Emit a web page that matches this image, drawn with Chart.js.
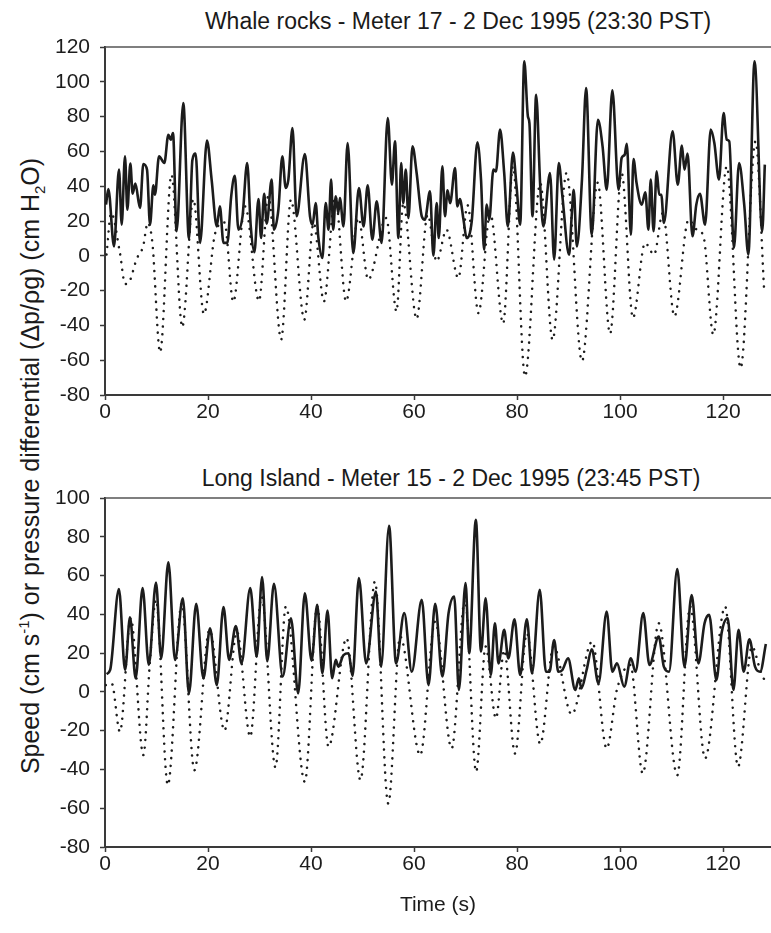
<!DOCTYPE html>
<html>
<head>
<meta charset="utf-8">
<script src="https://cdn.jsdelivr.net/npm/chart.js@4.4.0/dist/chart.umd.min.js"></script>
<style>
  body { margin: 0; background: #fff; }
  #wrap { position: relative; width: 771px; height: 933px; font-family: 'Liberation Sans', Arial, sans-serif; color: #1a1a1a; overflow: hidden; }
  .ttl { position: absolute; white-space: nowrap; font-size: 23px; transform: translateX(-50%); line-height: 1; }
  #ytitle { position: absolute; left: 30px; top: 466px; transform: translate(-50%, -50%) rotate(-90deg); white-space: nowrap; font-size: 25px; line-height: 1; }
  #ytitle sup, #ytitle sub { font-size: 15px; line-height: 0; }
  canvas { position: absolute; left: 0; }
</style>
</head>
<body>
<div id="wrap">
  <div class="ttl" style="left:458px; top:10px">Whale rocks - Meter 17 - 2 Dec 1995 (23:30 PST)</div>
  <div class="ttl" style="left:451px; top:467px">Long Island - Meter 15 - 2 Dec 1995 (23:45 PST)</div>
  <div id="ytitle">Speed (cm s<sup>-1</sup>) or pressure differential (Δp/ρg) (cm H<sub>2</sub>O)</div>
  <canvas id="whale" width="771" height="435" style="top:0"></canvas>
  <canvas id="island" width="771" height="498" style="top:435px"></canvas>
</div>
<script>
// Whale rocks (Meter 17) - speed, solid line
const whaleSpeedTime = [0.2,0.65,1.75,2.72,3.24,3.88,4.34,4.92,5.37,5.89,6.8,7.44,8.16,8.74,9.39,9.7,10.49,11.52,12.3,12.75,13.2,13.9,15.2,16.3,16.96,17.6,18.45,19.8,20.7,21.7,22.3,23.0,23.75,24.5,25.2,25.9,26.7,27.6,28.3,29.0,29.8,30.3,30.9,31.4,32.36,32.8,33.66,34.43,35.08,35.6,36.4,37.2,38.8,39.8,40.3,40.9,41.4,42.2,42.85,43.4,43.9,44.3,44.8,45.3,45.6,46.3,47.1,48.2,49.3,50.2,51.0,51.9,52.75,53.7,54.9,55.7,56.3,56.96,57.5,57.9,58.4,58.9,59.7,60.5,61.5,62.1,63.1,63.75,64.4,64.8,65.5,66.0,66.5,67.0,67.96,68.4,68.9,69.6,70.2,71.2,72.3,73.0,73.6,74.1,74.6,75.4,75.9,76.7,77.5,78.2,79.2,79.9,80.6,81.4,82.1,82.4,83.0,83.7,84.5,85.1,86.4,87.2,88.1,88.8,90.1,90.6,91.0,91.6,92.6,93.4,94.5,95.7,96.6,97.4,98.5,99.7,100.3,100.9,101.3,102.1,102.6,103.2,104.2,104.9,105.5,105.95,106.5,107.1,107.6,108.0,108.5,110.2,111.2,112.0,112.5,113.1,114.05,114.8,115.5,116.5,117.6,118.3,119.2,120.1,120.7,121.2,122.1,123.1,124.1,124.9,126.1,127.6,128.1];
const whaleSpeed = [29.4,38.4,5.4,49.5,17.9,57.2,26.5,53,35.7,41.5,27.5,52.8,49.5,17.9,40.5,35.1,57.2,53.3,69.6,66.7,70.6,14.1,87.8,9.8,54.9,58.7,7.4,66.2,43.8,16.9,28.4,7.4,7.4,34.2,46,15,22.7,53.3,16.9,2,32.6,10.2,35.7,18.5,43.8,15,26.5,57.2,39,43.8,73.4,22.7,58.5,22.7,17.9,30.3,11.2,-1.3,30.3,15,43.8,15,34.2,24.6,33.2,16.9,64.8,1.6,39,16.9,40.5,9.3,31.3,7.4,79.2,40.9,65.8,10.2,53.3,30.3,49.5,21.7,62.9,47.6,22.7,20.8,37,0.1,30.3,10.2,51.4,22.7,37.6,30.3,50.5,28.4,32.6,20.8,10.2,19.8,65.2,43.8,3.5,29.4,20.8,49.5,48.5,72.5,47.6,16.9,59.4,39.9,17.9,111.8,80.2,76.3,22.7,92.6,39.9,16.9,47.6,-2.2,53.3,34.2,0.6,22.7,38,5.4,43.8,96.4,12.1,78.2,62.9,38,95.1,38,56.2,58.1,64.4,12.1,55.6,41.8,29.4,36.5,15,43.8,14.1,48.5,35.1,35.1,18.9,71.5,40.9,63.3,49.5,58.7,11.2,29.4,35.7,17.9,72.5,64.8,43.8,82.1,66.7,65.8,4.5,53.3,29.4,0.7,111.8,14.1,52.4];

// Whale rocks - pressure differential, dotted line
const whalePressTime = [0.3,1.2,2.9,3.9,4.7,6.15,7.4,8.3,9.2,10.7,12.9,15,17.15,19.2,21.4,23.2,24.9,27.2,29.9,31.7,34.2,36.1,38.7,40.5,42.5,44.7,46.8,49.2,51.1,54.6,56.6,57.9,60.5,62.65,64.4,66.3,68.6,70.4,72.5,74.8,77.3,79.2,81.55,84.5,86.9,89.6,92.6,95.65,98.06,100.3,102.5,104.85,106.6,108.3,110.55,113.3,114.9,116.2,118.1,120.7,123.4,126.3,128];
const whalePress = [0.7,24.6,1.6,-16.2,-15,-1.8,5.4,18.9,7.3,-55.5,46.6,-40.9,32.6,-33.5,13.1,19.2,-26.5,28.4,-26,34.2,-48.2,32.3,-36.7,18.9,-26.2,34.2,-26.2,21.7,-13.7,21.7,-32,30.3,-36.3,23.6,-3.2,15,-12.8,29,-32.9,24.6,-39,51.4,-69.3,41.8,-48.4,47.6,-60.6,42,-44.8,47.6,-35.7,7.4,0.7,24.6,-34.8,20.8,15,11.2,-45.3,51.4,-64.5,65.8,-21.4];

// Long Island (Meter 15) - speed, solid line
const islandSpeedTime = [0.3,1.0,2.7,3.9,4.85,5.95,7.3,8.5,9.9,10.9,12.3,13.6,15.1,16.3,17.7,19.1,20.4,21.7,23.0,24.1,25.4,26.5,28.2,29.45,30.5,31.5,32.8,34.5,36.1,37.5,38.8,40.1,41.2,42.2,43.2,44.1,44.8,45.3,46.3,47.3,48.05,49.3,50.7,52.6,53.6,55.15,56.5,58.1,59.55,61.5,62.8,64.1,65.5,66.7,67.8,68.7,70.0,70.7,72.0,73.0,73.9,74.9,75.7,76.4,77.5,78.3,79.5,80.6,81.9,82.9,84.4,85.6,86.3,87.2,88.0,88.8,89.9,91.3,92.0,92.5,93.5,94.5,95.8,97.4,98.5,99.4,100.8,102.1,103.0,104.5,105.7,107.5,108.5,109.5,111.1,112.5,113.9,115.2,116.4,117.3,118.7,119.7,120.9,122.0,123.0,124.0,125.1,126.2,127.2,128.3];
const islandSpeed = [9.2,11.3,53,11.3,38.5,7,53.5,13.9,56.4,17.3,66.8,16.5,48.3,-0.8,45.4,7,32.8,3.5,43.7,16.5,34,14.7,53.5,18.2,59.2,15.8,55.7,7.9,38,-0.8,50.9,16.1,44.9,9.6,42,7,16.5,13,19,19.9,8.2,58.7,14.7,51.8,13,85.7,14.7,40.6,10.4,47.5,3.5,45.4,7.9,40.6,49.2,1,56.1,19.9,88.8,20.8,48.3,8.7,35.4,14.7,32,17.3,37.5,8.7,37.5,9.6,52.6,10.4,10.4,26.8,10.4,11.3,17.3,1,7,1.8,11.3,22,4.4,41.4,10.4,14.7,2.7,17.3,10.4,40.6,13.9,28.5,13,10.4,63.3,13,50,14.7,35.4,39.7,6.1,30.2,38,1,32,10.4,27.1,13,10.4,24.7];

// Long Island - pressure differential, dotted line
const islandPressTime = [0.13,1.3,2.9,5.0,7.45,8.7,9.9,12.2,14.9,17.35,20.3,23.2,25.6,28.2,30.4,33.1,35.1,38.8,41.2,43.4,46.9,49.6,52.4,55.0,57.3,61.2,64.1,67.3,69.9,72.05,73.9,75.9,77.5,79.6,81.9,84.5,87.1,90.6,94.6,97.4,99.4,102.0,104.4,107.5,111.1,113.6,116.5,120.4,122.9,125.6,127.2,128.3];
const islandPress = [3.5,4.4,-20.6,38,-32.6,14.7,47.5,-48.1,45.7,-40.4,32,-20,31.1,-23.1,49.2,-39,44,-46.4,44,-28.3,27.7,-45.5,56.9,-57.6,28.5,-32.6,36.3,-29.2,47.5,-41.2,23.4,-13.7,21.6,-31.8,30.2,-26.9,23.4,-11.6,26,-29.2,1.3,13.9,-42.1,35.4,-43,44,-34.3,44,-38.6,23.4,11.3,4.4];

const timeMax = 129.3;
const timeStep = 20;
const whaleRange = [-80, 120];
const islandRange = [-80, 100];

const pts = (ts, vs) => ts.map((t, i) => ({ x: t, y: vs[i] }));

const ink = '#1c1c1c';
const axisInk = '#3a3a3a';
const tickFont = { family: "'Liberation Sans', Arial, sans-serif", size: 21 };

// thin frame line along the top of the plot
const topLine = {
  id: 'topLine',
  afterDraw(chart) {
    const { ctx, chartArea } = chart;
    ctx.save();
    ctx.strokeStyle = '#555';
    ctx.lineWidth = 1.5;
    ctx.beginPath();
    ctx.moveTo(chartArea.left, chartArea.top);
    ctx.lineTo(chartArea.right, chartArea.top);
    ctx.stroke();
    ctx.restore();
  }
};

function makeChart(id, speedPts, pressPts, range, padTop, axisH, timeTitle) {
  return new Chart(document.getElementById(id), {
    type: 'line',
    data: {
      datasets: [
        { data: speedPts, borderColor: ink, borderWidth: 2.6, pointRadius: 0, cubicInterpolationMode: 'monotone' },
        { data: pressPts, borderColor: ink, borderWidth: 2.5, pointRadius: 0, cubicInterpolationMode: 'monotone',
          borderDash: [0.1, 7.6], borderCapStyle: 'round' }
      ]
    },
    options: {
      responsive: false,
      animation: false,
      layout: { padding: { top: padTop, left: 0, right: 0, bottom: 0 } },
      plugins: { legend: { display: false }, tooltip: { enabled: false } },
      scales: {
        x: {
          type: 'linear', min: 0, max: timeMax,
          afterFit(s) { s.height = axisH; },
          grid: { drawOnChartArea: false, drawTicks: true, tickLength: 5, tickColor: axisInk, tickWidth: 1.5 },
          border: { display: true, color: axisInk, width: 2 },
          ticks: { stepSize: timeStep, includeBounds: false, color: ink, font: tickFont, padding: 0, maxRotation: 0 },
          title: { display: timeTitle, text: 'Time (s)', color: ink, font: tickFont, padding: { top: 0, bottom: 15 } }
        },
        y: {
          min: range[0], max: range[1],
          afterFit(s) { s.width = 105; },
          grid: { drawOnChartArea: false, drawTicks: true, tickLength: 5, tickColor: axisInk, tickWidth: 1.5 },
          border: { display: true, color: axisInk, width: 2 },
          ticks: { stepSize: 20, color: ink, font: tickFont, padding: 10 }
        }
      }
    },
    plugins: [topLine]
  });
}

makeChart('whale', pts(whaleSpeedTime, whaleSpeed), pts(whalePressTime, whalePress), whaleRange, 47, 40, false);
makeChart('island', pts(islandSpeedTime, islandSpeed), pts(islandPressTime, islandPress), islandRange, 63, 86, true);
</script>
</body>
</html>
